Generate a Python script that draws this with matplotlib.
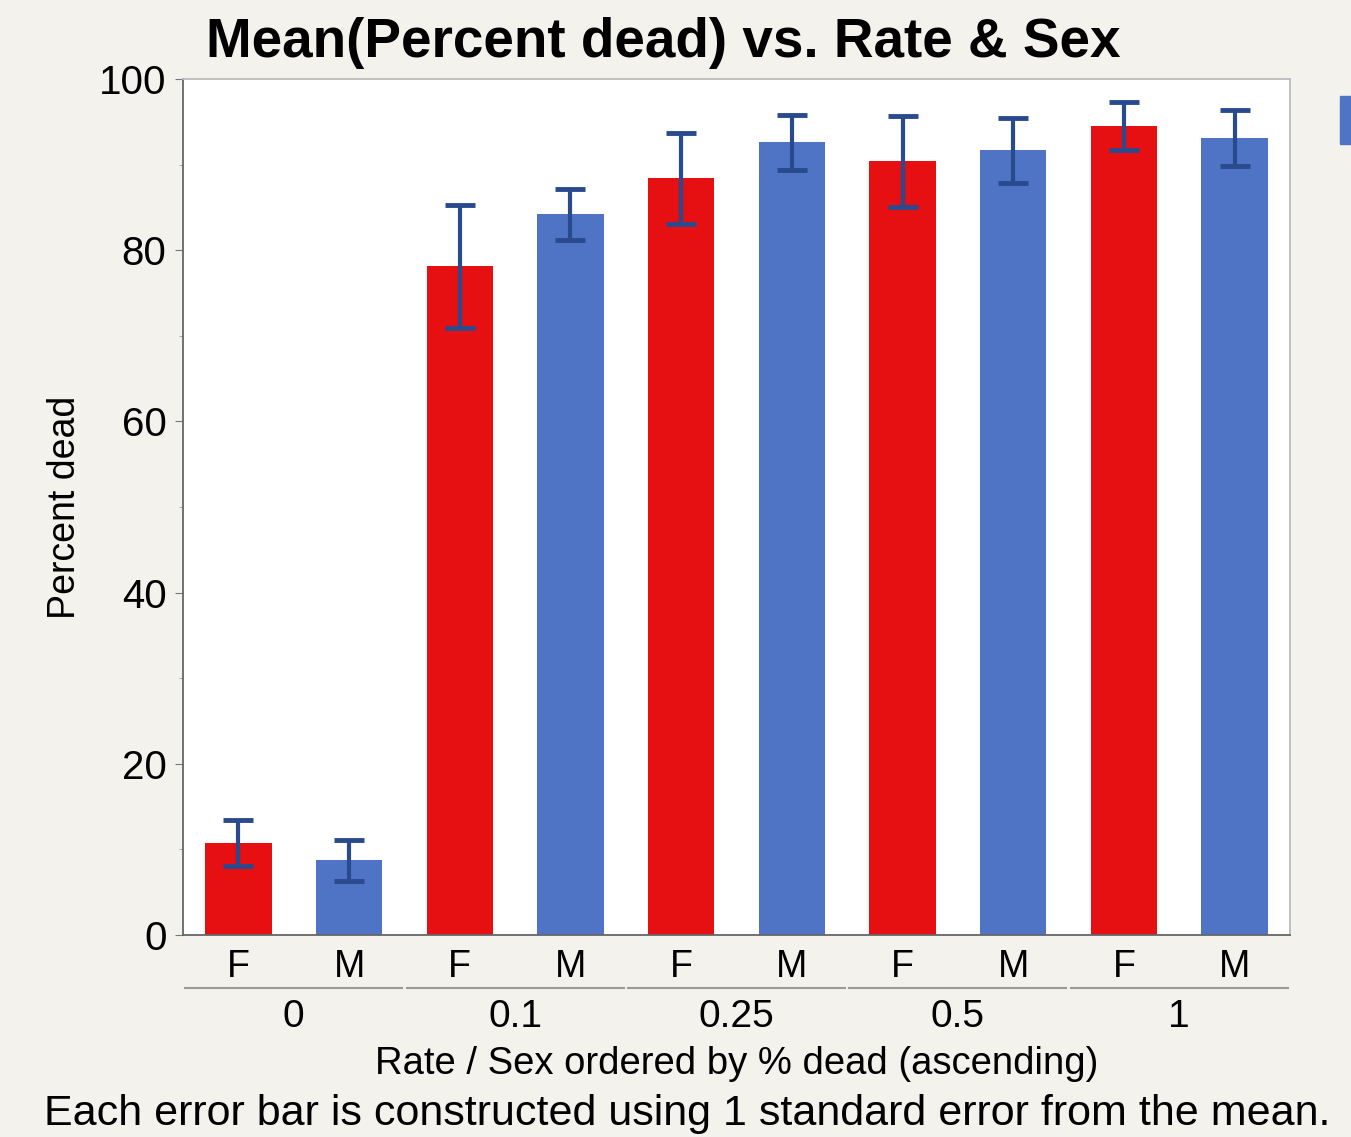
import matplotlib.pyplot as plt
from matplotlib.patches import Rectangle
from matplotlib.ticker import MultipleLocator
import numpy as np

plt.rcParams['font.family'] = ['Liberation Sans', 'DejaVu Sans']

# mean percent dead and standard error for each rate / sex group
rates = ["0", "0.1", "0.25", "0.5", "1"]
sexes = ["F", "M", "F", "M", "F", "M", "F", "M", "F", "M"]
mean_dead = [10.7, 8.7, 78.1, 84.2, 88.4, 92.6, 90.4, 91.7, 94.5, 93.1]
std_err = [2.7, 2.4, 7.2, 3.0, 5.3, 3.2, 5.3, 3.8, 2.8, 3.3]

red = "#e60f12"
blue = "#4f74c6"
err_col = "#2a4a8e"
bg = "#f4f2ec"


def main():
    fig = plt.figure(figsize=(13.51, 11.37), dpi=100, facecolor=bg)
    ax = fig.add_axes([0.1355, 0.1777, 0.8193, 0.7528])
    ax.set_facecolor("white")

    x = np.arange(len(mean_dead))
    colors = [red if s == "F" else blue for s in sexes]
    ax.bar(x, mean_dead, width=0.6, color=colors, zorder=2)
    ax.errorbar(x, mean_dead, yerr=std_err, fmt="none", ecolor=err_col,
                elinewidth=3, capsize=11, capthick=3.5, zorder=3)

    ax.set_xlim(-0.5, len(mean_dead) - 0.5)
    ax.set_ylim(0, 100)
    ax.set_yticks([0, 20, 40, 60, 80, 100])
    ax.yaxis.set_minor_locator(MultipleLocator(10))
    ax.tick_params(axis="y", which="major", labelsize=29, length=6,
                   color="#777777", pad=6)
    ax.tick_params(axis="y", which="minor", length=3, color="#999999")
    ax.set_xticks(x)
    ax.set_xticklabels(sexes)
    ax.tick_params(axis="x", labelsize=27, length=0, pad=10)
    for side in ["left", "bottom"]:
        ax.spines[side].set_color("#666666")
        ax.spines[side].set_linewidth(1.3)
    for side in ["top", "right"]:
        ax.spines[side].set_color("#bbbbbb")
        ax.spines[side].set_linewidth(1.3)

    ax.set_ylabel("Percent dead", fontsize=27)
    ax.yaxis.set_label_coords(-0.09, 0.5)

    # rate group labels under the sex labels with a separator line each
    trans = ax.get_xaxis_transform()
    for i, r in enumerate(rates):
        x0 = 2 * i - 0.48
        x1 = 2 * i + 1.48
        ax.plot([x0, x1], [-0.062, -0.062], transform=trans, color="#999999",
                lw=1.5, clip_on=False)
        ax.text(2 * i + 0.5, -0.075, r, transform=trans, ha="center",
                va="top", fontsize=28)

    fig.text(0.545, 0.064, "Rate / Sex ordered by % dead (ascending)",
             ha="center", va="center", fontsize=27.5)
    fig.text(0.509, 0.020,
             "Each error bar is constructed using 1 standard error from the mean.",
             ha="center", va="center", fontsize=31)
    fig.text(0.491, 0.962, "Mean(Percent dead) vs. Rate & Sex",
             ha="center", va="center", fontsize=39.5, fontweight="bold")

    # clipped legend swatch at the right edge
    fig.patches.append(Rectangle((0.992, 0.873), 0.008, 0.043,
                                 transform=fig.transFigure, color=blue))

    fig.savefig("out.png", dpi=100, facecolor=bg)


if __name__ == "__main__":
    main()
